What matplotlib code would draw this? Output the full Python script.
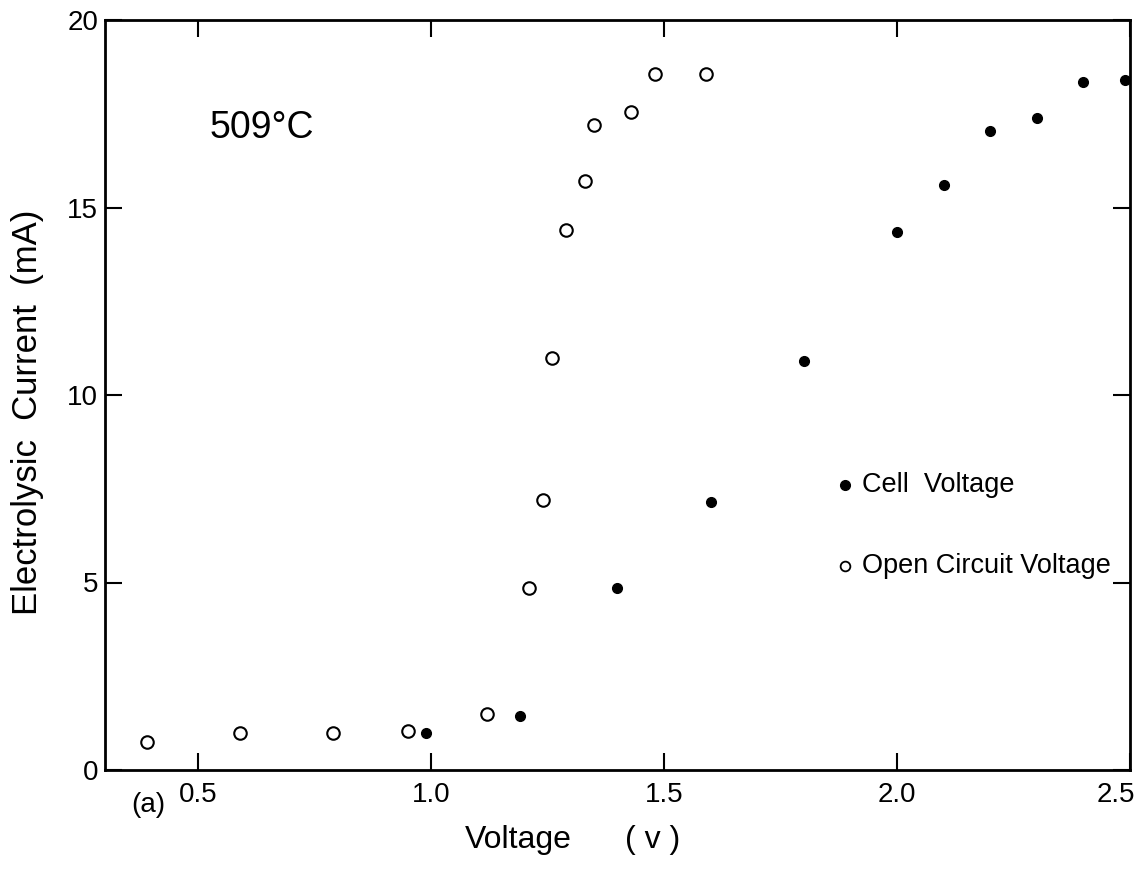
import matplotlib
matplotlib.use("Agg")
import matplotlib.pyplot as plt
from matplotlib.transforms import ScaledTranslation

ocv_x = [0.39, 0.59, 0.79, 0.95, 1.12, 1.21, 1.24, 1.26, 1.29, 1.33, 1.35, 1.43, 1.48, 1.59]
ocv_y = [0.75, 1.0, 1.0, 1.05, 1.5, 4.85, 7.2, 11.0, 14.4, 15.7, 17.2, 17.55, 18.55, 18.55]
cell_x = [0.99, 1.19, 1.40, 1.60, 1.80, 2.00, 2.10, 2.20, 2.30, 2.40, 2.49]
cell_y = [1.0, 1.45, 4.85, 7.15, 10.9, 14.35, 15.6, 17.05, 17.4, 18.35, 18.4]
xticks = [0.5, 1.0, 1.5, 2.0, 2.5]
xticklabels = ['0.5', '1.0', '1.5', '2.0', '2.5']
yticks = [0, 5, 10, 15, 20]
yticklabels = ['0', '5', '10', '15', '20']

plt.rcParams['font.family'] = ['Liberation Sans', 'DejaVu Sans']

W, H = 1142, 882
fig = plt.figure(figsize=(W / 100, H / 100), dpi=100)
ax = fig.add_axes([105 / W, 1 - 770 / H, 1025 / W, 750 / H])
ax.set_xlim(0.3, 2.5)
ax.set_ylim(0, 20)

ax.plot(ocv_x, ocv_y, linestyle='none', marker='o', markersize=9,
        markerfacecolor='white', markeredgecolor='black', markeredgewidth=1.5)
ax.plot(cell_x, cell_y, linestyle='none', marker='o', markersize=7,
        markerfacecolor='black', markeredgecolor='black', clip_on=False)

ax.set_xticks(xticks)
ax.set_xticklabels(xticklabels)
ax.set_yticks(yticks)
ax.set_yticklabels(yticklabels)
ax.tick_params(direction='in', length=12, width=1.5, labelsize=20,
               top=True, right=True)
ax.tick_params(axis='x', pad=9)
ax.tick_params(axis='y', pad=5)
for s in ax.spines.values():
    s.set_linewidth(2)

# nudge the last x tick label so it stays inside the figure
last = ax.get_xticklabels()[-1]
last.set_transform(last.get_transform() + ScaledTranslation(-10 / 72, 0, fig.dpi_scale_trans))

# axis labels
fig.text(465 / W, 1 - 848 / H, 'Voltage', fontsize=23, ha='left', va='baseline')
fig.text(625 / W, 1 - 848 / H, '( v )', fontsize=23, ha='left', va='baseline')
fig.text(28 / W, 1 - 412 / H, 'Electrolysic  Current  (mA)', fontsize=25,
         rotation=90, ha='center', va='center')

ax.text(0.525, 16.85, '509°C', fontsize=27, va='baseline')
fig.text(131 / W, 1 - 805 / H, '(a)', fontsize=20, ha='left', va='center')

# legend
ax.plot([1.888], [7.6], linestyle='none', marker='o', markersize=7,
        markerfacecolor='black', markeredgecolor='black')
ax.text(1.925, 7.6, 'Cell  Voltage', fontsize=19.5, va='center')
ax.plot([1.888], [5.44], linestyle='none', marker='o', markersize=7,
        markerfacecolor='white', markeredgecolor='black', markeredgewidth=1.3)
ax.text(1.925, 5.44, 'Open Circuit Voltage', fontsize=19.5, va='center')

fig.savefig('out.png', dpi=100)
